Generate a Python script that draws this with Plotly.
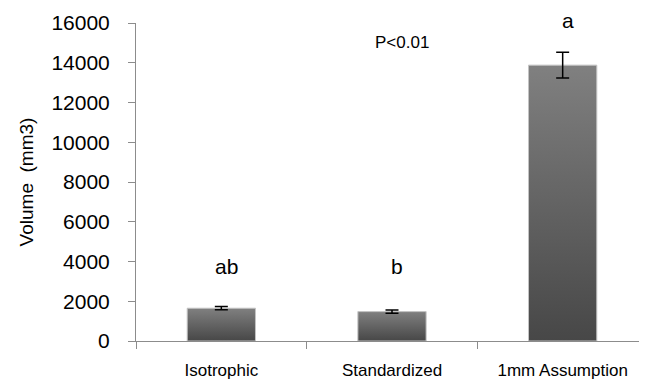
import plotly.graph_objects as go

categories = ["Isotrophic", "Standardized", "1mm Assumption"]
volumes = [1650, 1480, 13880]
errors = [80, 80, 650]
letters = ["ab", "b", "a"]
letter_y = [3750, 3750, 16150]
y_ticks = [0, 2000, 4000, 6000, 8000, 10000, 12000, 14000, 16000]
Y_MAX = 16000

FONT = "Liberation Sans, Arial, sans-serif"
BAR_W = 0.4
positions = list(range(len(categories)))

fig = go.Figure()
for i, v in zip(positions, volumes):
    x0, x1 = i - BAR_W / 2, i + BAR_W / 2
    fig.add_trace(go.Scatter(
        x=[x0, x1, x1, x0, x0], y=[0, 0, v, v, 0],
        mode="lines", fill="toself",
        fillgradient=dict(type="vertical",
                          colorscale=[[0, "#474747"], [1, "#808080"]]),
        line=dict(color="#c4c4c4", width=1),
        hoverinfo="skip",
    ))

fig.add_trace(go.Scatter(
    x=positions, y=volumes, mode="markers",
    marker=dict(size=1, opacity=0),
    error_y=dict(type="data", array=errors, visible=True, color="#000000",
                 thickness=1.5, width=6.5),
))

for i, lab, ly in zip(positions, letters, letter_y):
    fig.add_annotation(x=i + 0.03, xref="x", y=ly / Y_MAX, yref="paper", text=lab,
                       showarrow=False, xanchor="center", yanchor="middle",
                       font=dict(size=21, color="#000000", family=FONT))

fig.add_annotation(x=1.06, xref="x", y=15000 / Y_MAX, yref="paper", text="P<0.01",
                   showarrow=False, xanchor="center", yanchor="middle",
                   font=dict(size=17, color="#000000", family=FONT))

fig.update_layout(
    width=640, height=372,
    margin=dict(l=128, r=0, t=15, b=39),
    paper_bgcolor="white", plot_bgcolor="white",
    showlegend=False,
    font=dict(family=FONT, color="#000000"),
    xaxis=dict(
        range=[-0.5, 2.5], tickvals=positions, ticktext=categories,
        showline=True, linecolor="#8c8c8c", linewidth=1,
        ticks="",
        minor=dict(tickvals=[-0.5, 0.5, 1.5, 2.5], ticks="outside", ticklen=7,
                   tickcolor="#8c8c8c", showgrid=False),
        tickfont=dict(size=17, family=FONT, color="#000000"),
        ticklabelstandoff=14,
        showgrid=False, zeroline=False, automargin=False,
    ),
    yaxis=dict(
        range=[0, Y_MAX], tickvals=y_ticks, tickformat="d",
        showline=True, linecolor="#8c8c8c", linewidth=1,
        ticks="outside", ticklen=7, tickcolor="#8c8c8c",
        tickfont=dict(size=21, family=FONT, color="#000000"),
        ticklabelstandoff=14,
        showgrid=False, zeroline=False, automargin=False,
        title=dict(text="Volume  (mm3)", font=dict(size=19, family=FONT, color="#000000"),
                   standoff=12),
    ),
)

fig.write_html("out.html")
